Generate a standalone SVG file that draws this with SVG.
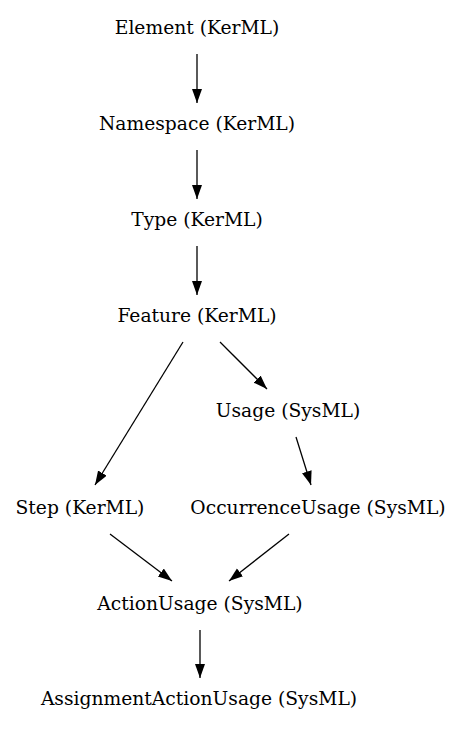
<svg xmlns="http://www.w3.org/2000/svg" width="461" height="731" viewBox="0 0 461 731">
<defs>
<marker id="ah" markerUnits="userSpaceOnUse" markerWidth="16" markerHeight="12" refX="14" refY="5" orient="auto">
<path d="M0,0 L14,5 L0,10 Z" fill="#000"/>
</marker>
<style>
text{font-family:"DejaVu Serif",serif;font-size:18.7px;fill:#000;text-anchor:middle}
.e{stroke:#000;stroke-width:1.3;fill:none;marker-end:url(#ah)}
</style>
</defs>
<rect width="461" height="731" fill="#fff"/>
<g id="connectors">
<line class="e" x1="197" y1="54" x2="197" y2="103"/>
<line class="e" x1="197" y1="150" x2="197" y2="199"/>
<line class="e" x1="197" y1="246" x2="197" y2="295"/>
<line class="e" x1="183" y1="342" x2="95" y2="485"/>
<line class="e" x1="220" y1="342" x2="267" y2="389"/>
<line class="e" x1="296" y1="437" x2="311" y2="485"/>
<line class="e" x1="110" y1="534" x2="172" y2="581"/>
<line class="e" x1="289" y1="534" x2="229" y2="581"/>
<line class="e" x1="200" y1="630" x2="200" y2="678"/>
</g>
<g id="element"><text x="197" y="34">Element (KerML)</text></g>
<g id="namespace"><text x="197" y="130">Namespace (KerML)</text></g>
<g id="type"><text x="197" y="226">Type (KerML)</text></g>
<g id="feature"><text x="197" y="322">Feature (KerML)</text></g>
<g id="usage"><text x="288" y="417">Usage (SysML)</text></g>
<g id="step"><text x="80" y="514">Step (KerML)</text></g>
<g id="occurrenceusage"><text x="318" y="514">OccurrenceUsage (SysML)</text></g>
<g id="actionusage"><text x="200" y="610">ActionUsage (SysML)</text></g>
<g id="assignmentactionusage"><text x="199" y="705">AssignmentActionUsage (SysML)</text></g>
</svg>
